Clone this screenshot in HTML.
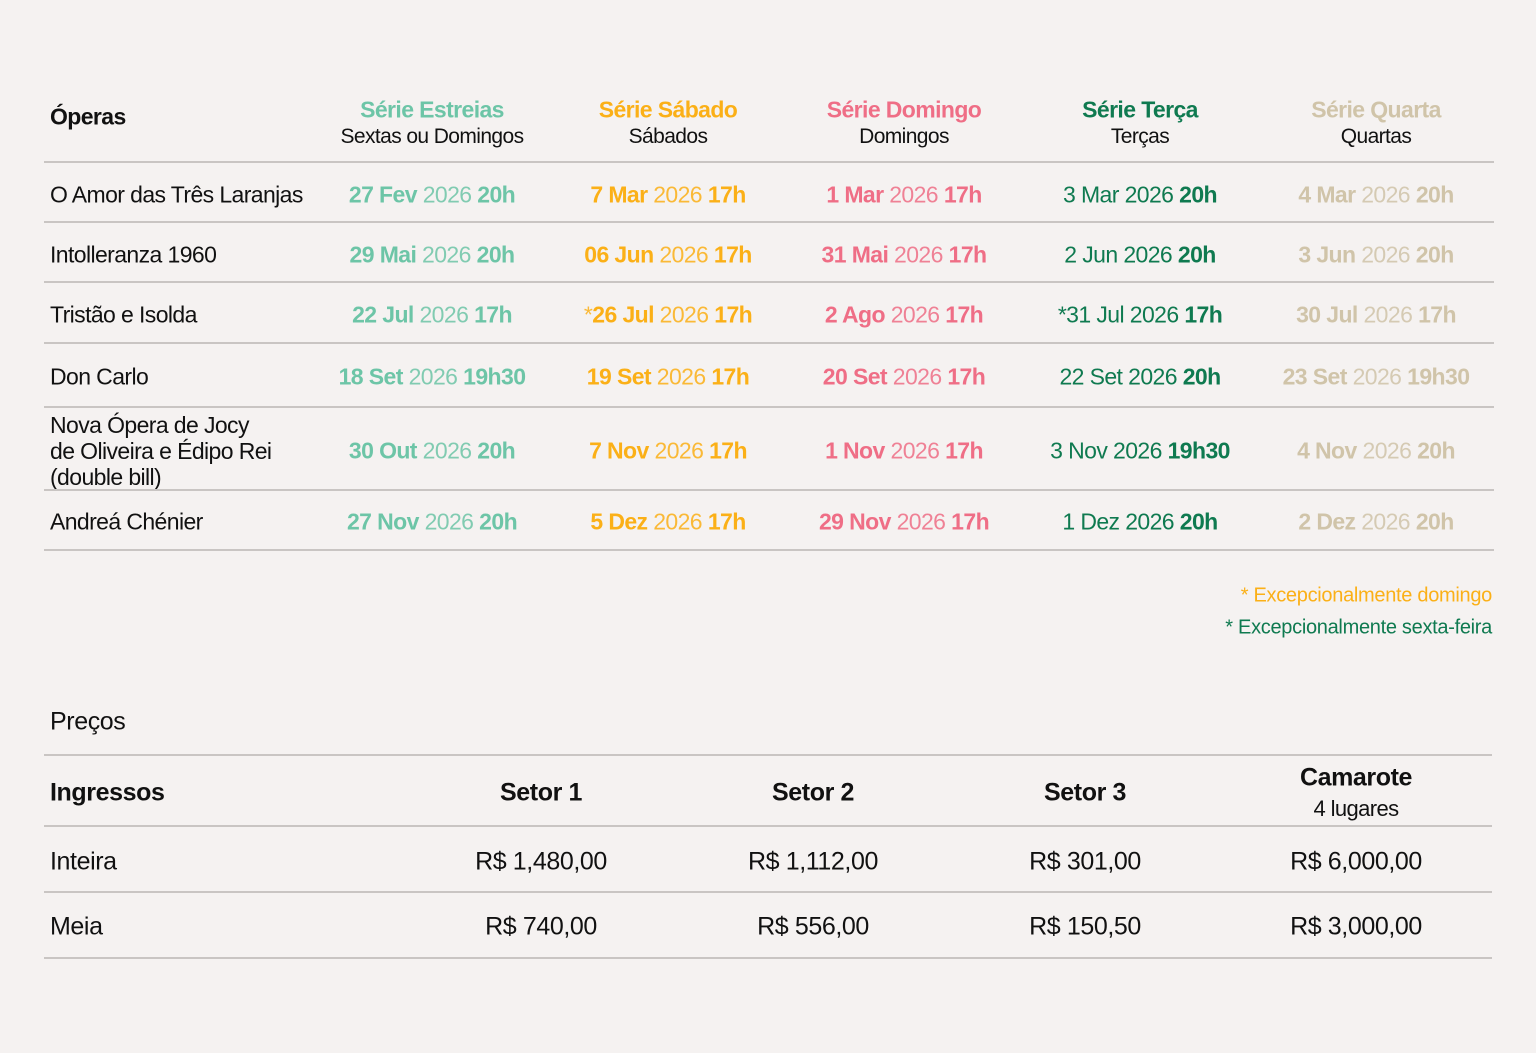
<!DOCTYPE html>
<html><head><meta charset="utf-8"><style>
html,body{margin:0;padding:0;background:#f5f2f1;}
body{width:1536px;height:1053px;position:relative;overflow:hidden;font-family:"Liberation Sans",sans-serif;color:#111;}
.c{position:absolute;transform:translate(-50%,-50%);white-space:nowrap;letter-spacing:-0.6px;font-size:23px;}
.l{position:absolute;transform:translateY(-50%);white-space:nowrap;letter-spacing:-0.6px;font-size:23px;}
.r{position:absolute;transform:translateY(-50%);white-space:nowrap;letter-spacing:-0.3px;font-size:20px;right:44px;}
.hl{position:absolute;left:44px;width:1450px;height:2px;background:#c9c5c3;}
.b{font-weight:bold}
.y{font-weight:normal;opacity:0.85}
.e{color:#6dc5a7}.s{color:#fbb017}.d{color:#ef6e86}.t{color:#0f7a50}.q{color:#d0c4a9}
.p{font-size:25px;letter-spacing:-0.4px}
.sub{font-size:21px}
</style></head><body>
<div class="l b" style="left:50px;top:117px">Óperas</div>
<div class="c b e" style="left:432px;top:110px">Série Estreias</div>
<div class="c sub" style="left:432px;top:137px">Sextas ou Domingos</div>
<div class="c b s" style="left:668px;top:110px">Série Sábado</div>
<div class="c sub" style="left:668px;top:137px">Sábados</div>
<div class="c b d" style="left:904px;top:110px">Série Domingo</div>
<div class="c sub" style="left:904px;top:137px">Domingos</div>
<div class="c b t" style="left:1140px;top:110px">Série Terça</div>
<div class="c sub" style="left:1140px;top:137px">Terças</div>
<div class="c b q" style="left:1376px;top:110px">Série Quarta</div>
<div class="c sub" style="left:1376px;top:137px">Quartas</div>
<div class="hl" style="top:161px"></div>

<div class="l" style="left:50px;top:195px">O Amor das Três Laranjas</div>
<div class="c e" style="left:432px;top:195px"><b>27 Fev</b> <span class="y">2026</span> <b>20h</b></div>
<div class="c s" style="left:668px;top:195px"><b>7 Mar</b> <span class="y">2026</span> <b>17h</b></div>
<div class="c d" style="left:904px;top:195px"><b>1 Mar</b> <span class="y">2026</span> <b>17h</b></div>
<div class="c t" style="left:1140px;top:195px">3 Mar 2026 <b>20h</b></div>
<div class="c q" style="left:1376px;top:195px"><b>4 Mar</b> <span class="y">2026</span> <b>20h</b></div>
<div class="hl" style="top:221px"></div>

<div class="l" style="left:50px;top:255px">Intolleranza 1960</div>
<div class="c e" style="left:432px;top:255px"><b>29 Mai</b> <span class="y">2026</span> <b>20h</b></div>
<div class="c s" style="left:668px;top:255px"><b>06 Jun</b> <span class="y">2026</span> <b>17h</b></div>
<div class="c d" style="left:904px;top:255px"><b>31 Mai</b> <span class="y">2026</span> <b>17h</b></div>
<div class="c t" style="left:1140px;top:255px">2 Jun 2026 <b>20h</b></div>
<div class="c q" style="left:1376px;top:255px"><b>3 Jun</b> <span class="y">2026</span> <b>20h</b></div>
<div class="hl" style="top:281px"></div>

<div class="l" style="left:50px;top:315px">Tristão e Isolda</div>
<div class="c e" style="left:432px;top:315px"><b>22 Jul</b> <span class="y">2026</span> <b>17h</b></div>
<div class="c s" style="left:668px;top:315px"><span class="y">*</span><b>26 Jul</b> <span class="y">2026</span> <b>17h</b></div>
<div class="c d" style="left:904px;top:315px"><b>2 Ago</b> <span class="y">2026</span> <b>17h</b></div>
<div class="c t" style="left:1140px;top:315px">*31 Jul 2026 <b>17h</b></div>
<div class="c q" style="left:1376px;top:315px"><b>30 Jul</b> <span class="y">2026</span> <b>17h</b></div>
<div class="hl" style="top:342px"></div>

<div class="l" style="left:50px;top:377px">Don Carlo</div>
<div class="c e" style="left:432px;top:377px"><b>18 Set</b> <span class="y">2026</span> <b>19h30</b></div>
<div class="c s" style="left:668px;top:377px"><b>19 Set</b> <span class="y">2026</span> <b>17h</b></div>
<div class="c d" style="left:904px;top:377px"><b>20 Set</b> <span class="y">2026</span> <b>17h</b></div>
<div class="c t" style="left:1140px;top:377px">22 Set 2026 <b>20h</b></div>
<div class="c q" style="left:1376px;top:377px"><b>23 Set</b> <span class="y">2026</span> <b>19h30</b></div>
<div class="hl" style="top:406px"></div>

<div class="l" style="left:50px;top:451px;line-height:26px">Nova Ópera de Jocy<br>de Oliveira e Édipo Rei<br>(double bill)</div>
<div class="c e" style="left:432px;top:451px"><b>30 Out</b> <span class="y">2026</span> <b>20h</b></div>
<div class="c s" style="left:668px;top:451px"><b>7 Nov</b> <span class="y">2026</span> <b>17h</b></div>
<div class="c d" style="left:904px;top:451px"><b>1 Nov</b> <span class="y">2026</span> <b>17h</b></div>
<div class="c t" style="left:1140px;top:451px">3 Nov 2026 <b>19h30</b></div>
<div class="c q" style="left:1376px;top:451px"><b>4 Nov</b> <span class="y">2026</span> <b>20h</b></div>
<div class="hl" style="top:489px"></div>

<div class="l" style="left:50px;top:522px">Andreá Chénier</div>
<div class="c e" style="left:432px;top:522px"><b>27 Nov</b> <span class="y">2026</span> <b>20h</b></div>
<div class="c s" style="left:668px;top:522px"><b>5 Dez</b> <span class="y">2026</span> <b>17h</b></div>
<div class="c d" style="left:904px;top:522px"><b>29 Nov</b> <span class="y">2026</span> <b>17h</b></div>
<div class="c t" style="left:1140px;top:522px">1 Dez 2026 <b>20h</b></div>
<div class="c q" style="left:1376px;top:522px"><b>2 Dez</b> <span class="y">2026</span> <b>20h</b></div>
<div class="hl" style="top:549px"></div>

<div class="r s" style="top:596px">* Excepcionalmente domingo</div>
<div class="r t" style="top:628px">* Excepcionalmente sexta-feira</div>

<div class="l p" style="left:50px;top:722px">Preços</div>
<div class="hl" style="top:754px;width:1448px"></div>
<div class="l p b" style="left:50px;top:793px">Ingressos</div>
<div class="c p b" style="left:541px;top:793px">Setor 1</div>
<div class="c p b" style="left:813px;top:793px">Setor 2</div>
<div class="c p b" style="left:1085px;top:793px">Setor 3</div>
<div class="c p b" style="left:1356px;top:778px">Camarote</div>
<div class="c" style="left:1356px;top:809px;font-size:22px">4 lugares</div>
<div class="hl" style="top:825px;width:1448px"></div>
<div class="l p" style="left:50px;top:862px">Inteira</div>
<div class="c p" style="left:541px;top:862px">R$ 1,480,00</div>
<div class="c p" style="left:813px;top:862px">R$ 1,112,00</div>
<div class="c p" style="left:1085px;top:862px">R$ 301,00</div>
<div class="c p" style="left:1356px;top:862px">R$ 6,000,00</div>
<div class="hl" style="top:891px;width:1448px"></div>
<div class="l p" style="left:50px;top:927px">Meia</div>
<div class="c p" style="left:541px;top:927px">R$ 740,00</div>
<div class="c p" style="left:813px;top:927px">R$ 556,00</div>
<div class="c p" style="left:1085px;top:927px">R$ 150,50</div>
<div class="c p" style="left:1356px;top:927px">R$ 3,000,00</div>
<div class="hl" style="top:957px;width:1448px"></div>
</body></html>
